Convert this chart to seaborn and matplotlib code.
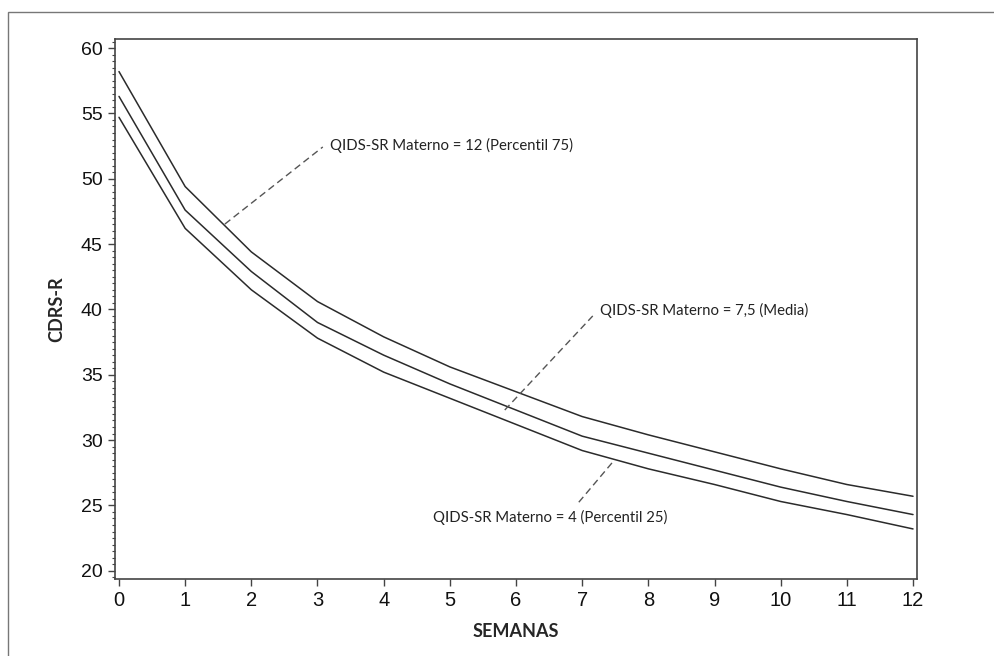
import numpy as np
import pandas as pd
import matplotlib
matplotlib.use("Agg")
import matplotlib.pyplot as plt
import seaborn as sns
from matplotlib.ticker import MultipleLocator
from matplotlib.patches import Rectangle

# ---- data ----
semanas = [0, 1, 2, 3, 4, 5, 6, 7, 8, 9, 10, 11, 12]
p75 = [58.2, 49.4, 44.4, 40.6, 37.9, 35.6, 33.7, 31.8, 30.4, 29.1, 27.8, 26.6, 25.7]
media = [56.3, 47.6, 42.9, 39.0, 36.5, 34.3, 32.3, 30.3, 29.0, 27.7, 26.4, 25.3, 24.3]
p25 = [54.7, 46.2, 41.5, 37.8, 35.2, 33.2, 31.2, 29.2, 27.8, 26.6, 25.3, 24.3, 23.2]
grupos = ["QIDS-SR Materno = 12 (Percentil 75)",
          "QIDS-SR Materno = 7,5 (Media)",
          "QIDS-SR Materno = 4 (Percentil 25)"]
x_ticks = list(range(0, 13))
y_ticks = [20, 25, 30, 35, 40, 45, 50, 55, 60]

df = pd.DataFrame({
    "SEMANAS": semanas * 3,
    "CDRS-R": p75 + media + p25,
    "grupo": [grupos[0]] * 13 + [grupos[1]] * 13 + [grupos[2]] * 13,
})

sns.set_style("white")
plt.rcParams["font.family"] = ["Liberation Sans", "DejaVu Sans"]

fig = plt.figure(figsize=(9.95, 6.56), dpi=100)
ax = fig.add_axes([0.1156, 0.1174, 0.806, 0.8231])

line_c = "#2b2b2b"
sns.lineplot(data=df, x="SEMANAS", y="CDRS-R", hue="grupo",
             palette=[line_c] * 3, legend=False, ax=ax, linewidth=1.1)

ax.set_xlim(-0.06, 12.06)
ax.set_ylim(19.37, 60.69)
ax.set_xticks(x_ticks)
ax.set_yticks(y_ticks)
ax.yaxis.set_minor_locator(MultipleLocator(0.5))

spine_c = "#444444"
for s in ax.spines.values():
    s.set_visible(True)
    s.set_color(spine_c)
    s.set_linewidth(1.2)

ax.tick_params(axis="both", which="major", direction="out", length=5, width=1.0,
               color=spine_c, labelcolor="#111111", pad=4)
ax.tick_params(axis="x", which="major", labelsize=14.5)
ax.tick_params(axis="y", which="major", labelsize=14)
ax.tick_params(axis="y", which="minor", direction="out", length=2.5, width=0.8,
               color=spine_c, left=True)
ax.tick_params(axis="x", which="minor", bottom=False)
ax.tick_params(left=True, bottom=True)

lab_font = ["Lato", "DejaVu Sans"]
ax.set_xlabel("SEMANAS", fontsize=13, fontweight="bold", family=lab_font, labelpad=9)
ax.set_ylabel("CDRS-R", fontsize=13, fontweight="bold", family=lab_font, labelpad=11)

ann_font = ["Lato", "DejaVu Sans"]
dash_c = "#555555"
ann = [
    (grupos[0], (1.60, 46.53), (3.19, 52.58), (3.08, 52.43)),
    (grupos[1], (5.83, 32.30), (7.27, 39.95), (7.16, 39.50)),
    (grupos[2], (7.45, 28.25), (4.75, 24.04), (6.94, 25.19)),
]
for txt, tip, tpos, lend in ann:
    ax.plot([tip[0], lend[0]], [tip[1], lend[1]], linestyle=(0, (5, 3)),
            color=dash_c, linewidth=1.0)
    ax.text(tpos[0], tpos[1], txt, fontsize=10.7, family=ann_font,
            color="#222222", ha="left", va="center")

# outer frame of the figure
fig.patches.append(Rectangle((0.008, -0.05), 1.1, 0.9817 + 0.05,
                             transform=fig.transFigure, fill=False,
                             edgecolor="#777777", linewidth=1.0))

fig.savefig("out.png", dpi=100)
